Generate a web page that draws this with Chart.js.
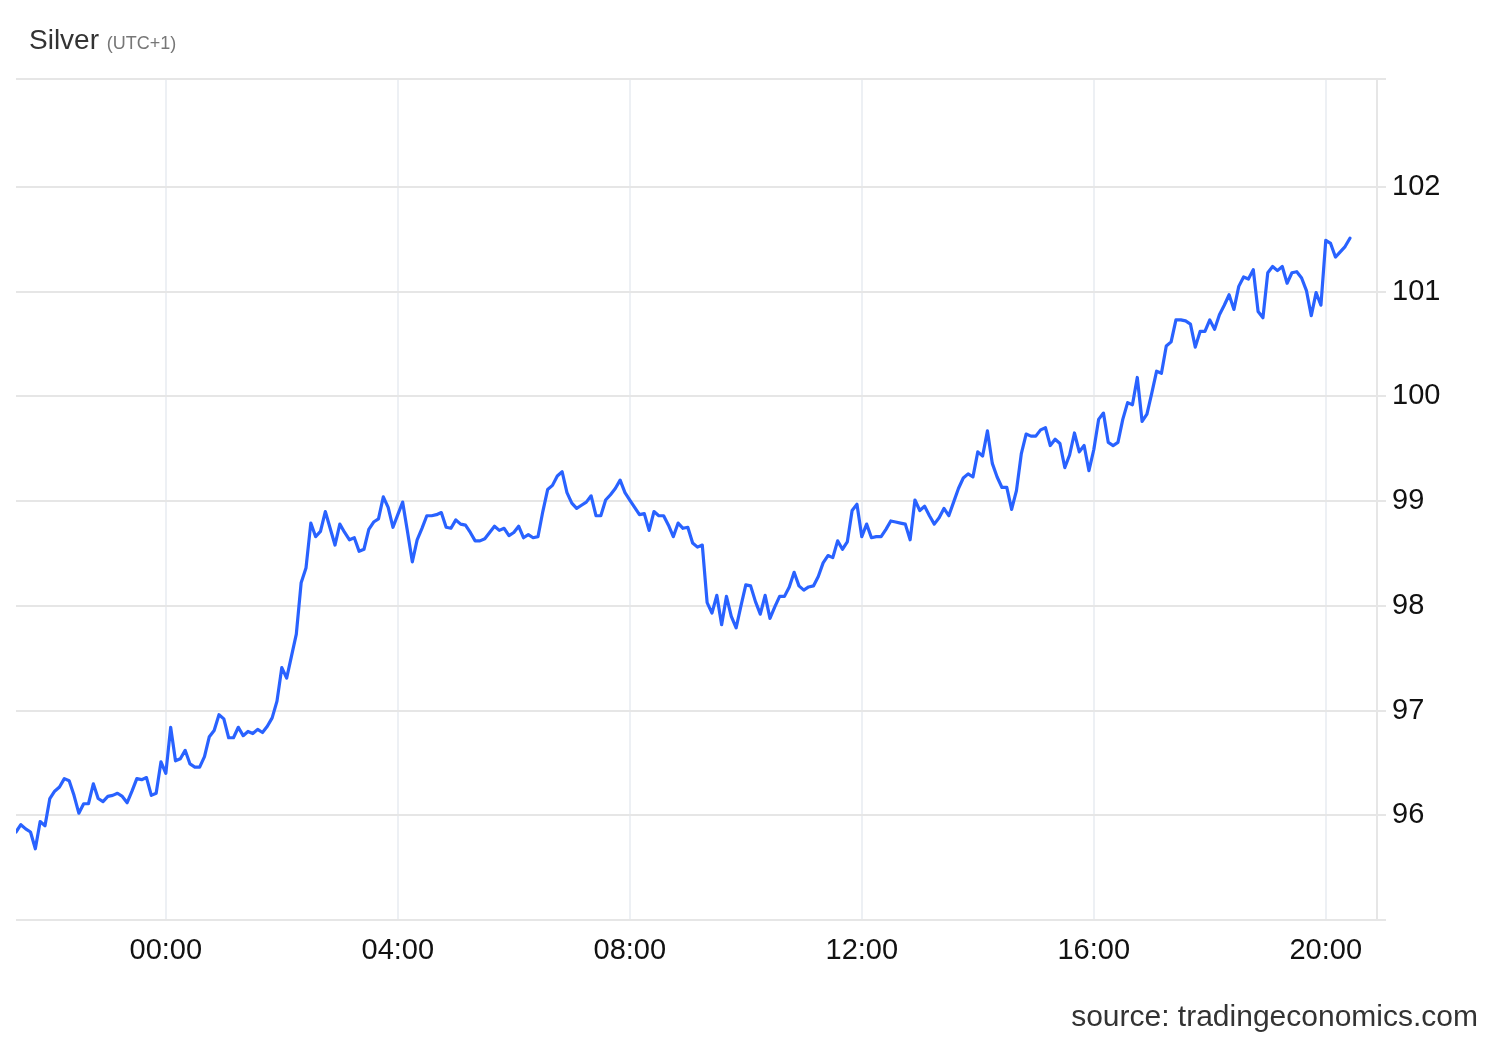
<!DOCTYPE html>
<html>
<head>
<meta charset="utf-8">
<title>Silver</title>
<script src="https://cdn.jsdelivr.net/npm/chart.js@4.4.1/dist/chart.umd.min.js"></script>
<style>
  html, body { margin: 0; padding: 0; background: #ffffff; }
  #wrap { position: relative; width: 1500px; height: 1040px; background: #ffffff; overflow: hidden; }
  #c { position: absolute; left: 0; top: 0; }
  #title { position: absolute; left: 29px; top: 23px; font-family: "Liberation Sans", Arial, sans-serif; font-size: 28px; line-height: 34px; color: #333333; white-space: nowrap; }
  #title .tz { font-size: 18px; color: #777777; }
  #source { position: absolute; right: 22px; top: 999px; font-family: "Liberation Sans", Arial, sans-serif; font-size: 30px; line-height: 34px; color: #333333; white-space: nowrap; }
</style>
</head>
<body>
<div id="wrap">
  <canvas id="c" width="1500" height="1040"></canvas>
  <div id="title">Silver <span class="tz">(UTC+1)</span></div>
  <div id="source">source: tradingeconomics.com</div>
</div>
<script>
// ---- data (5-minute prices, first point at 21:25 of the previous day) ----
const startMinute = -155;      // minutes relative to 00:00 (21:25)
const intervalMinutes = 5;
const prices = [
  // 21:25 - 21:55
  95.84, 95.91, 95.87, 95.84, 95.68, 95.94, 95.90,
  // 22:00 - 22:55
  96.16, 96.23, 96.27, 96.35, 96.33, 96.19, 96.02, 96.11, 96.11, 96.30, 96.16, 96.13,
  // 23:00 - 23:55
  96.18, 96.19, 96.21, 96.18, 96.12, 96.23, 96.35, 96.34, 96.36, 96.19, 96.21, 96.51,
  // 00:00 - 00:55
  96.40, 96.84, 96.52, 96.54, 96.62, 96.49, 96.46, 96.46, 96.56, 96.75, 96.81, 96.96,
  // 01:00 - 01:55
  96.92, 96.74, 96.74, 96.84, 96.76, 96.80, 96.78, 96.82, 96.79, 96.85, 96.93, 97.09,
  // 02:00 - 02:55
  97.41, 97.31, 97.52, 97.73, 98.22, 98.36, 98.79, 98.66, 98.71, 98.90, 98.74, 98.58,
  // 03:00 - 03:55
  98.78, 98.70, 98.63, 98.65, 98.52, 98.54, 98.73, 98.80, 98.83, 99.04, 98.94, 98.75,
  // 04:00 - 04:55
  98.87, 98.99, 98.71, 98.42, 98.63, 98.74, 98.86, 98.86, 98.87, 98.89, 98.75, 98.74,
  // 05:00 - 05:55
  98.82, 98.78, 98.77, 98.70, 98.62, 98.62, 98.64, 98.70, 98.76, 98.72, 98.74, 98.67,
  // 06:00 - 06:55
  98.70, 98.76, 98.65, 98.68, 98.65, 98.66, 98.90, 99.11, 99.15, 99.24, 99.28, 99.08,
  // 07:00 - 07:55
  98.98, 98.93, 98.96, 98.99, 99.05, 98.86, 98.86, 99.01, 99.06, 99.12, 99.20, 99.08,
  // 08:00 - 08:55
  99.01, 98.94, 98.87, 98.88, 98.72, 98.90, 98.86, 98.86, 98.77, 98.66, 98.79, 98.74,
  // 09:00 - 09:55
  98.75, 98.60, 98.56, 98.58, 98.03, 97.93, 98.10, 97.82, 98.09, 97.90, 97.79, 98.00,
  // 10:00 - 10:55
  98.20, 98.19, 98.04, 97.92, 98.10, 97.88, 97.99, 98.09, 98.09, 98.18, 98.32, 98.19,
  // 11:00 - 11:55
  98.15, 98.18, 98.19, 98.28, 98.41, 98.48, 98.46, 98.62, 98.54, 98.61, 98.91, 98.97,
  // 12:00 - 12:55
  98.66, 98.78, 98.65, 98.66, 98.66, 98.73, 98.81, 98.80, 98.79, 98.78, 98.63, 99.01,
  // 13:00 - 13:55
  98.91, 98.95, 98.86, 98.78, 98.84, 98.93, 98.86, 98.99, 99.12, 99.22, 99.26, 99.23,
  // 14:00 - 14:55
  99.47, 99.43, 99.67, 99.36, 99.23, 99.13, 99.13, 98.92, 99.10, 99.45, 99.64, 99.62,
  // 15:00 - 15:55
  99.62, 99.68, 99.70, 99.53, 99.59, 99.55, 99.32, 99.44, 99.65, 99.47, 99.53, 99.29,
  // 16:00 - 16:55
  99.49, 99.78, 99.84, 99.56, 99.53, 99.56, 99.78, 99.94, 99.92, 100.18, 99.76, 99.83,
  // 17:00 - 17:55
  100.03, 100.24, 100.22, 100.48, 100.52, 100.73, 100.73, 100.72, 100.69, 100.47, 100.62, 100.62,
  // 18:00 - 18:55
  100.73, 100.64, 100.78, 100.87, 100.97, 100.83, 101.05, 101.14, 101.12, 101.21, 100.81, 100.75,
  // 19:00 - 19:55
  101.18, 101.24, 101.20, 101.24, 101.08, 101.18, 101.19, 101.13, 101.01, 100.77, 100.99, 100.87,
  // 20:00 - 20:25
  101.49, 101.46, 101.33, 101.38, 101.43, 101.51
];
const xTickMinutes = [0, 240, 480, 720, 960, 1200];
const xTickLabels = ["00:00", "04:00", "08:00", "12:00", "16:00", "20:00"];
const yTickValues = [96, 97, 98, 99, 100, 101, 102];
const xMin = -155, xMax = 1253;
const yMin = 95.0, yMax = 103.03;

const points = prices.map((v, i) => ({ x: startMinute + i * intervalMinutes, y: v }));
const FONT = "'Liberation Sans', Arial, Helvetica, sans-serif";

new Chart(document.getElementById('c'), {
  type: 'line',
  data: {
    datasets: [{
      label: 'Silver',
      data: points,
      borderColor: '#2962ff',
      borderWidth: 3.2,
      borderJoinStyle: 'round',
      borderCapStyle: 'round',
      pointRadius: 0,
      pointHoverRadius: 0,
      tension: 0,
      fill: false
    }]
  },
  options: {
    responsive: false,
    devicePixelRatio: 1,
    animation: false,
    layout: { padding: { left: 16, top: 79, right: 0, bottom: 0 } },
    plugins: {
      legend: { display: false },
      tooltip: { enabled: false },
      title: { display: false }
    },
    scales: {
      x: {
        type: 'linear',
        min: xMin,
        max: xMax,
        afterBuildTicks: (s) => { s.ticks = xTickMinutes.map(v => ({ value: v })); },
        afterFit: (s) => { s.height = 120; },
        grid: { color: '#edf0f4', lineWidth: 2, drawTicks: false },
        border: { display: false },
        ticks: {
          autoSkip: false,
          maxRotation: 0,
          padding: 14,
          color: '#111111',
          font: { family: FONT, size: 29 },
          callback: (v) => { const i = xTickMinutes.indexOf(v); return i >= 0 ? xTickLabels[i] : ''; }
        }
      },
      y: {
        type: 'linear',
        position: 'right',
        min: yMin,
        max: yMax,
        afterBuildTicks: (s) => { s.ticks = [yMin, ...yTickValues, yMax].map(v => ({ value: v })); },
        afterFit: (s) => { s.width = 123; },
        grid: { color: '#e6e6e6', lineWidth: 2, drawTicks: true, tickLength: 9 },
        border: { display: true, color: '#e6e6e6', width: 2 },
        ticks: {
          autoSkip: false,
          padding: 6,
          color: '#111111',
          font: { family: FONT, size: 29 },
          callback: (v) => yTickValues.includes(v) ? String(v) : ''
        }
      }
    }
  }
});
</script>
</body>
</html>
